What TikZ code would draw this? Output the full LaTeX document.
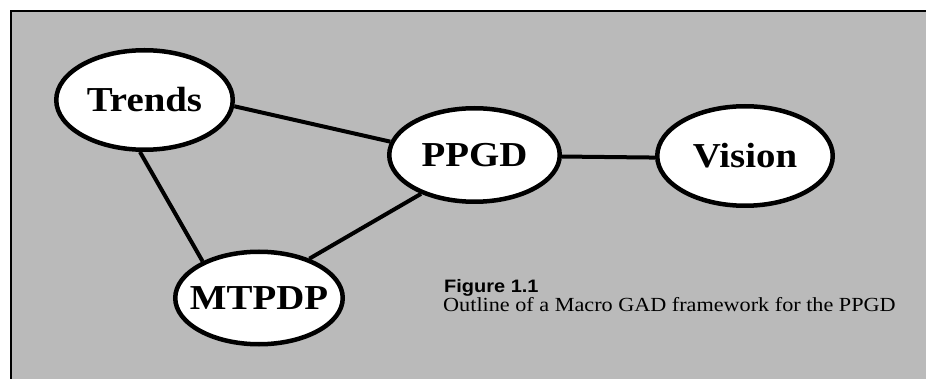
\documentclass[tikz,border=0pt]{standalone}
\usepackage{fontspec}
\setmainfont{Liberation Serif}[FakeStretch=1.11]
\newfontfamily\capsans{Liberation Sans}[FakeStretch=1.11]
\usetikzlibrary{shapes.geometric}

\tikzset{
  bubble/.style={ellipse, draw=black, fill=white, line width=4.5pt,
    inner sep=0pt, font=\fontsize{35}{40}\selectfont\bfseries},
  link/.style={line width=4pt, draw=black},
  paper/.style={fill=black!27},
}
\newcommand{\bubtext}[1]{\makebox[0pt]{#1}}

\begin{document}
\begin{tikzpicture}[x=1pt,y=-1pt]
  \useasboundingbox (0,0) rectangle (926,379);
  % shaded panel with its rule on top and left
  \fill[paper] (11,11) rectangle (926,379);
  \draw[line width=1.6pt] (11,379) -- (11,11) -- (926,11);

  % concept bubbles
  \node[bubble, minimum width=176.5pt, minimum height=99.5pt] (trends) at (144.5,100) {\bubtext{Trends}};
  \node[bubble, minimum width=170.5pt, minimum height=93.5pt] (ppgd)   at (474.5,155) {\bubtext{PPGD}};
  \node[bubble, minimum width=175.5pt, minimum height=99.5pt] (vision) at (745,156)   {\bubtext{Vision}};
  \node[bubble, minimum width=167.5pt, minimum height=92.5pt] (mtpdp)  at (259,298) {\bubtext{MTPDP}};

  % links between bubbles
  \draw[link] (trends.-4.7) -- (ppgd.171.5);
  \draw[link] (trends.265) -- (mtpdp.147.8);
  \draw[link] (mtpdp.38.2) -- (ppgd.216.5);
  \draw[link] (ppgd.-1.5) -- (vision.181.3);

  % caption
  \node[anchor=base west, inner sep=0pt, font=\capsans\bfseries\fontsize{18}{20}\selectfont] (fig) at (444,293) {Figure 1.1};
  \node[anchor=base west, inner sep=0pt, font=\fontsize{20}{22}\selectfont] (cap) at (443,311) {Outline of a Macro GAD framework for the PPGD};
\end{tikzpicture}
\end{document}
